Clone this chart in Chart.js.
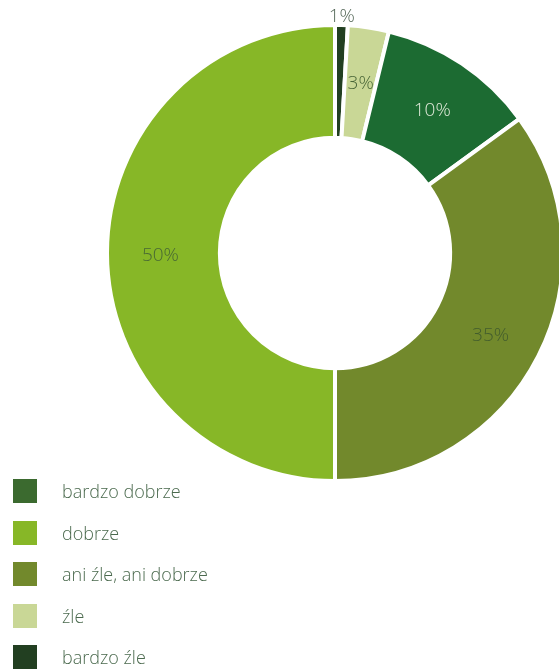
<!DOCTYPE html>
<html>
<head>
<meta charset="utf-8">
<script src="https://cdn.jsdelivr.net/npm/chart.js@4"></script>
<style>
  body { margin: 0; background: #fff; font-family: 'Open Sans', sans-serif; }
  #wrap { position: relative; width: 559px; height: 670px; overflow: hidden; }
  #chart_box { position: absolute; left: 0; top: 0; width: 580px; height: 490px; }
  #legend { position: absolute; left: 13px; top: 479px; }
  .item { height: 41.5px; display: flex; align-items: flex-start; }
  .box { width: 24px; height: 24px; flex: none; }
  .txt { margin-left: 25px; font-size: 18px; font-weight: 300; color: #4b6a4e; line-height: 25px; }
</style>
</head>
<body>
<div id="wrap">
  <div id="chart_box"><canvas id="opinion_chart"></canvas></div>
  <div id="legend"></div>
</div>
<script>
// kolejność wycinków od góry, zgodnie z ruchem wskazówek zegara
const labels = ['bardzo źle', 'źle', 'bardzo dobrze', 'ani źle, ani dobrze', 'dobrze']
const values = [0.9, 2.9, 11.2, 35.0, 50.0]
const valueTexts = ['1%', '3%', '10%', '35%', '50%']
const colors = ['#223f21', '#c9d796', '#1c6b32', '#72892c', '#87b727']
const textColors = ['#56695a', '#4a6738', '#dfe9d8', '#435d2d', '#486834']

// legenda ma inną kolejność
const legendLabels = ['bardzo dobrze', 'dobrze', 'ani źle, ani dobrze', 'źle', 'bardzo źle']
const legendColors = ['#3b6a2f', '#87b727', '#72892c', '#c9d796', '#223f21']

const legend_element = document.getElementById('legend')
for (let i = 0; i < legendLabels.length; i++) {
  let row = document.createElement('div')
  row.className = 'item'
  row.innerHTML = `<div class="box" style="background:${legendColors[i]}"></div><div class="txt">${legendLabels[i]}</div>`
  legend_element.appendChild(row)
}

// etykiety procentowe na wycinkach
const sliceLabels = {
  id: 'sliceLabels',
  afterDatasetsDraw(chart) {
    const ctx = chart.ctx
    const meta = chart.getDatasetMeta(0)
    ctx.save()
    ctx.font = '300 19px "Open Sans"'
    ctx.textAlign = 'center'
    ctx.textBaseline = 'middle'
    meta.data.forEach((arc, i) => {
      const p = arc.getProps(['x', 'y', 'startAngle', 'endAngle', 'innerRadius', 'outerRadius'], true)
      const mid = (p.startAngle + p.endAngle) / 2
      // najmniejszy wycinek ma etykietę na zewnątrz
      const r = values[i] < 2 ? p.outerRadius + 12 : (p.innerRadius + p.outerRadius) / 2 + 3
      ctx.fillStyle = textColors[i]
      ctx.fillText(valueTexts[i], p.x + Math.cos(mid) * r, p.y + Math.sin(mid) * r + 3)
    })
    ctx.restore()
  },
}

const canvas = document.getElementById('opinion_chart')
const config = {
  type: 'doughnut',
  data: {
    labels: labels,
    datasets: [
      {
        data: values,
        backgroundColor: colors,
        borderColor: '#ffffff',
        borderWidth: 4,
      },
    ],
  },
  options: {
    responsive: true,
    maintainAspectRatio: false,
    animation: false,
    cutout: '50.5%',
    layout: { padding: { left: 105, right: 15, top: 23, bottom: 7 } },
    plugins: {
      legend: { display: false },
      tooltip: { enabled: false },
    },
  },
  plugins: [sliceLabels],
}
new Chart(canvas, config)
</script>
</body>
</html>
